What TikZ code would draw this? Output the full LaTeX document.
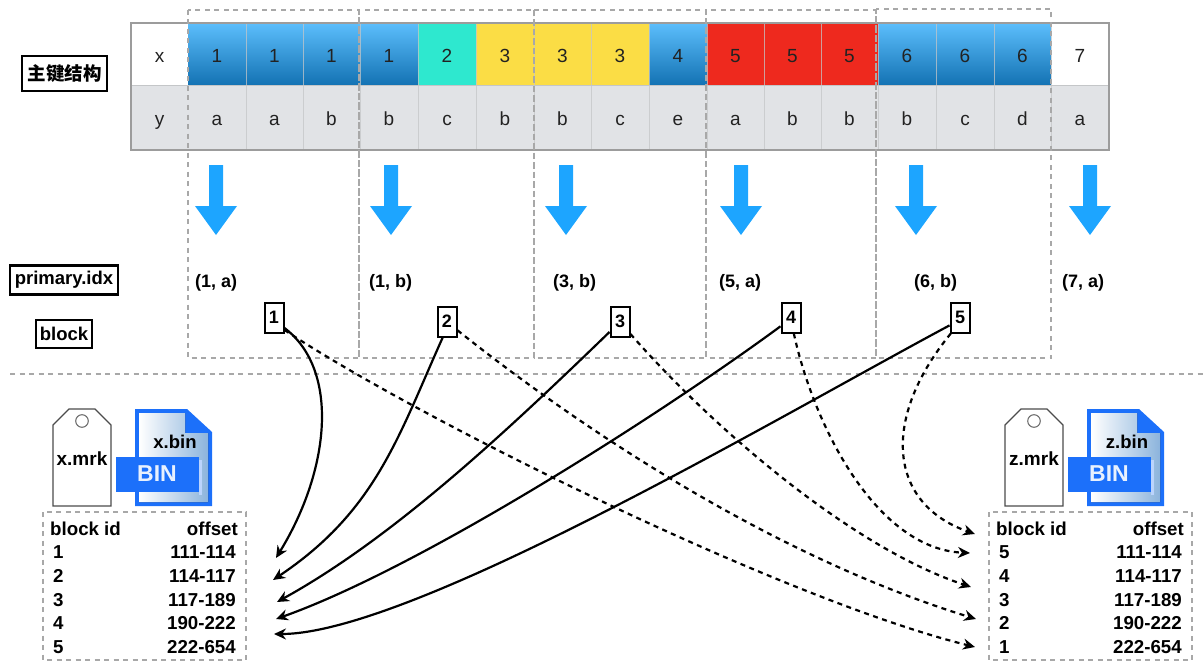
\documentclass[tikz,border=0pt]{standalone}
\usepackage{fontspec}
\setmainfont{Liberation Sans}
\newfontfamily\cjk{Noto Sans CJK SC}
\usetikzlibrary{arrows.meta}
\definecolor{dashgray}{HTML}{A8A8A8}
\definecolor{tblgray}{HTML}{9C9C9C}
\definecolor{rowgray}{HTML}{E1E3E6}
\definecolor{sepgray}{HTML}{C4C6C8}
\definecolor{arrowblue}{HTML}{1DA5FF}
\definecolor{binblue}{HTML}{1C70FA}
\definecolor{txt}{HTML}{222222}
\definecolor{gradtop}{HTML}{5CBEFC}
\definecolor{gradbot}{HTML}{1271B2}
\definecolor{tealc}{HTML}{2EE8CF}
\definecolor{yelc}{HTML}{FBDD45}
\definecolor{redc}{HTML}{EE291E}
\definecolor{pageblue}{HTML}{8CB4DC}
\tikzset{
  x=1pt,y=-1pt,
  cblue/.style={top color=gradtop,bottom color=gradbot},
  cteal/.style={fill=tealc},
  cyel/.style={fill=yelc},
  cred/.style={fill=redc},
  cwhite/.style={fill=white},
  cgray/.style={fill=rowgray},
  celltxt/.style={font=\fontsize{19}{20}\selectfont,text=txt,inner sep=0pt,anchor=base},
  lbl/.style={font=\bfseries\fontsize{18}{20}\selectfont,text=black,inner sep=0pt},
  tbltxt/.style={font=\bfseries\fontsize{18.7}{20}\selectfont,text=black,inner sep=0pt},
  keybox/.style={draw=black,line width=2.5pt,fill=white,inner sep=0pt,font=\bfseries\fontsize{18.5}{20}\selectfont},
  blockbox/.style={draw=black,line width=2pt,fill=white,inner sep=0pt,minimum width=19pt,minimum height=30pt,font=\bfseries\fontsize{18}{20}\selectfont},
  grouprect/.style={draw=dashgray,line width=1.5pt,dash pattern=on 5pt off 4.5pt},
  solidlink/.style={draw=black,line width=2.2pt,-{Stealth[length=12pt,width=11pt]}},
  dashlink/.style={draw=black,line width=2.2pt,dash pattern=on 5pt off 4.5pt,-{Stealth[length=12pt,width=11pt]}},
  downarrow/.style={fill=arrowblue,draw=none},
}
\newcommand{\fileicons}[5]{%
  \begin{scope}[shift={(#1,0)}]
    \draw[line width=1.1pt,draw=black!70,fill=white] (53,425) -- (69,409) -- (95,409) -- (111,425) -- (111,506) -- (53,506) -- cycle;
    \draw[line width=1pt,draw=black!60] (82,421) circle (6.3);
    \node[lbl,font=\bfseries\fontsize{19}{20}\selectfont] (#2) at (82,459) {#3};
    \fill[binblue] (135,409) -- (187,409) -- (212,432) -- (212,506) -- (135,506) -- cycle;
    \fill[left color=white,right color=pageblue] (139,413) -- (185,413) -- (185,433) -- (208,433) -- (208,502) -- (139,502) -- cycle;
    \node[lbl,font=\bfseries\fontsize{18.5}{20}\selectfont] (#4) at (175,442) {#5};
    \fill[white!70!binblue] (199,460) rectangle (202,495);
    \fill[binblue] (116,457) rectangle (199,492);
    \node[font=\bfseries\fontsize{23}{24}\selectfont,text=white!90!binblue,inner sep=0pt] (#2bin) at (157,474) {BIN};
  \end{scope}}
\newcommand{\offsettable}[2]{%
  \begin{scope}[shift={(#1,0)}]
    \draw[grouprect] (43,512) rectangle (246,660);
    \node[tbltxt,anchor=base west] (#2h1) at (50,535) {block id};
    \node[tbltxt,anchor=base east] (#2h2) at (238,535) {offset};
    \node[tbltxt,anchor=base east] (#2o1) at (236,558) {111-114};
    \node[tbltxt,anchor=base east] (#2o2) at (236,582) {114-117};
    \node[tbltxt,anchor=base east] (#2o3) at (236,606) {117-189};
    \node[tbltxt,anchor=base east] (#2o4) at (236,629) {190-222};
    \node[tbltxt,anchor=base east] (#2o5) at (236,653) {222-654};
  \end{scope}}
\begin{document}
\begin{tikzpicture}
\useasboundingbox (0,0) rectangle (1203,661);
% table cells
\foreach \cid/\lft/\rgt/\sty/\ctext in {
  c0/131/188/cwhite/x,c1/188/246/cblue/1,c2/246/303/cblue/1,c3/303/360/cblue/1,
  c4/360/418/cblue/1,c5/418/476/cteal/2,c6/476/534/cyel/3,c7/534/591/cyel/3,
  c8/591/649/cyel/3,c9/649/707/cblue/4,c10/707/764/cred/5,c11/764/821/cred/5,
  c12/821/878/cred/5,c13/878/936/cblue/6,c14/936/994/cblue/6,c15/994/1051/cblue/6,
  c16/1051/1109/cwhite/7}{
  \path[\sty] (\lft,23) rectangle (\rgt,86);
  \node[celltxt] (\cid) at ({(\lft+\rgt)/2},62.5) {\ctext};
}
\foreach \cid/\lft/\rgt/\ctext in {
  d0/131/188/y,d1/188/246/a,d2/246/303/a,d3/303/360/b,
  d4/360/418/b,d5/418/476/c,d6/476/534/b,d7/534/591/b,
  d8/591/649/c,d9/649/707/e,d10/707/764/a,d11/764/821/b,
  d12/821/878/b,d13/878/936/b,d14/936/994/c,d15/994/1051/d,
  d16/1051/1109/a}{
  \path[cgray] (\lft,86) rectangle (\rgt,150);
  \node[celltxt] (\cid) at ({(\lft+\rgt)/2},125) {\ctext};
}
\foreach \xx in {246,303,360,418,476,534,591,649,707,764,821,878,936,994,1051}
  \draw[sepgray,line width=0.9pt,opacity=.75] (\xx,23) -- (\xx,150);
\draw[sepgray,line width=1pt] (131,86) -- (1109,86);
\draw[tblgray,line width=1.5pt] (131,23) rectangle (1109,150);
% groups
\draw[grouprect] (188,10) rectangle (359,358);
\draw[grouprect] (359,10) rectangle (534,358);
\draw[grouprect] (534,10) rectangle (706,358);
\draw[grouprect] (706,10) rectangle (876,358);
\draw[grouprect] (876,9) rectangle (1051,358);
\draw[grouprect] (10,374) -- (1203,374);
% down arrows
\foreach \cc in {216,391,566,741,916,1090}
  \fill[downarrow] (\cc-7,165) -- (\cc+7,165) -- (\cc+7,206) -- (\cc+21,206) -- (\cc,235) -- (\cc-21,206) -- (\cc-7,206) -- cycle;
% row titles
\node[keybox,minimum width=85pt,minimum height=35pt] (kz) at (64.5,73.5) {\cjk\bfseries 主键结构};
\node[keybox,minimum width=108pt,minimum height=29pt] (kp) at (64,280) {primary.idx};
\node[keybox,minimum width=56pt,minimum height=28pt] (kb) at (64,334) {block};
% index values
\foreach \pid/\xx/\ctext in {p1/195/{(1, a)},p2/369/{(1, b)},p3/553/{(3, b)},p4/719/{(5, a)},p5/914/{(6, b)},p6/1062/{(7, a)}}
  \node[lbl,anchor=base west] (\pid) at (\xx,287) {\ctext};
% blocks
\node[blockbox] (b1) at (274,317.5) {1};
\node[blockbox] (b2) at (447,321.5) {2};
\node[blockbox] (b3) at (620,321.5) {3};
\node[blockbox] (b4) at (791,317.5) {4};
\node[blockbox] (b5) at (960,317.5) {5};
% icons and tables
\fileicons{0}{xm}{x.mrk}{xb}{x.bin}
\fileicons{952}{zm}{z.mrk}{zb}{z.bin}
\offsettable{0}{x}
\offsettable{946}{z}
\foreach \nn/\yy/\ctext in {1/558/1,2/582/2,3/606/3,4/629/4,5/653/5}
  \node[tbltxt,anchor=base west] (xi\nn) at (53,\yy) {\ctext};
\foreach \nn/\yy/\ctext in {1/558/5,2/582/4,3/606/3,4/629/2,5/653/1}
  \node[tbltxt,anchor=base west] (zi\nn) at (999,\yy) {\ctext};
% free ends
\coordinate (ea1) at (276,558);
\coordinate (ea2) at (273,580);
\coordinate (ea3) at (277,602);
\coordinate (ea4) at (276,619);
\coordinate (ea5) at (274,634);
\coordinate (eb5) at (975,534);
\coordinate (eb4) at (970,553);
\coordinate (eb3) at (971,587);
\coordinate (eb2) at (976,619);
\coordinate (eb1) at (975,647);
% links
\draw[solidlink] (b1.-45) .. controls (340,370) and (330,470) .. (ea1);
\draw[solidlink] (b2.-105) .. controls (398,437) and (376,511) .. (ea2);
\draw[solidlink] (b3.-135) .. controls (500,438) and (391,539) .. (ea3);
\draw[solidlink] (b4.-140) .. controls (660,415) and (420,568) .. (ea4);
\draw[solidlink] (b5.-143) .. controls (780,416) and (412,634) .. (ea5);
\draw[dashlink] (b1.-50) .. controls (420,420) and (785,600) .. (eb1);
\draw[dashlink] (b2.-40) .. controls (570,420) and (765,554) .. (eb2);
\draw[dashlink] (b3.-50) .. controls (710,425) and (850,547) .. (eb3);
\draw[dashlink] (b4.-80) .. controls (815,430) and (878,549) .. (eb4);
\draw[dashlink] (b5.-120) .. controls (880,420) and (889,504) .. (eb5);
\end{tikzpicture}
\end{document}
